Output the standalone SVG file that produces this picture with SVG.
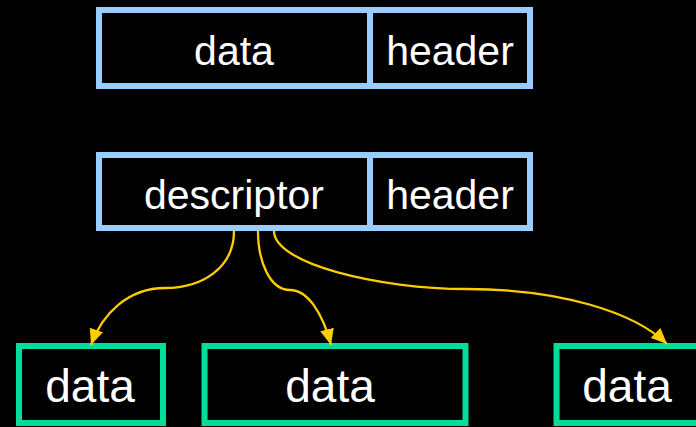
<svg xmlns="http://www.w3.org/2000/svg" width="696" height="427" viewBox="0 0 696 427">
  <style>
    .bg { fill: #000000; }
    .seg { fill: #000000; stroke: #99ccff; stroke-width: 6; }
    .blk { fill: #000000; stroke: #00dd9c; stroke-width: 6; }
    .lbl { fill: #ffffff; font-family: "Liberation Sans", Arial, sans-serif; text-anchor: middle; }
    .top { font-size: 41px; }
    .big { font-size: 46px; }
    .link { fill: none; stroke: #ffcc00; stroke-width: 2.3; }
  </style>
  <defs>
    <marker id="head" viewBox="0 0 16 14" refX="16" refY="7" markerWidth="16" markerHeight="14" markerUnits="userSpaceOnUse" orient="auto">
      <path d="M0,0 L16,7 L0,14 Z" fill="#ffcc00"/>
    </marker>
  </defs>
  <rect class="bg" x="0" y="0" width="696" height="427"/>

  <!-- packet: data + header -->
  <g id="packet-data">
    <rect class="seg" x="99" y="10" width="271" height="76"/>
    <text class="lbl top" x="234" y="65">data</text>
  </g>
  <g id="packet-header">
    <rect class="seg" x="370" y="10" width="160" height="76"/>
    <text class="lbl top" x="450" y="65">header</text>
  </g>

  <!-- packet: descriptor + header -->
  <g id="desc-descriptor">
    <rect class="seg" x="99" y="155" width="271" height="73"/>
    <text class="lbl top" x="234" y="209">descriptor</text>
  </g>
  <g id="desc-header">
    <rect class="seg" x="370" y="155" width="160" height="73"/>
    <text class="lbl top" x="450" y="209">header</text>
  </g>

  <!-- scattered data buffers -->
  <g id="buf1">
    <rect class="blk" x="19" y="346" width="144" height="77"/>
    <text class="lbl big" x="90" y="402">data</text>
  </g>
  <g id="buf2">
    <rect class="blk" x="204.5" y="346" width="261" height="77"/>
    <text class="lbl big" x="330" y="402">data</text>
  </g>
  <g id="buf3">
    <rect class="blk" x="556.5" y="346" width="144" height="77"/>
    <text class="lbl big" x="627" y="402">data</text>
  </g>

  <!-- descriptor pointers -->
  <g id="connectors">
    <path class="link" marker-end="url(#head)" d="M234,231 C234,268 202,288 165,288 C128,288 102,314 91,345"/>
    <path class="link" marker-end="url(#head)" d="M258,231 C258,262 270,290 290,290 C308,290 323,314 331,345"/>
    <path class="link" marker-end="url(#head)" d="M274,231 C274,264 380,289 466,289 C560,289 634,312 667,344"/>
  </g>
</svg>
